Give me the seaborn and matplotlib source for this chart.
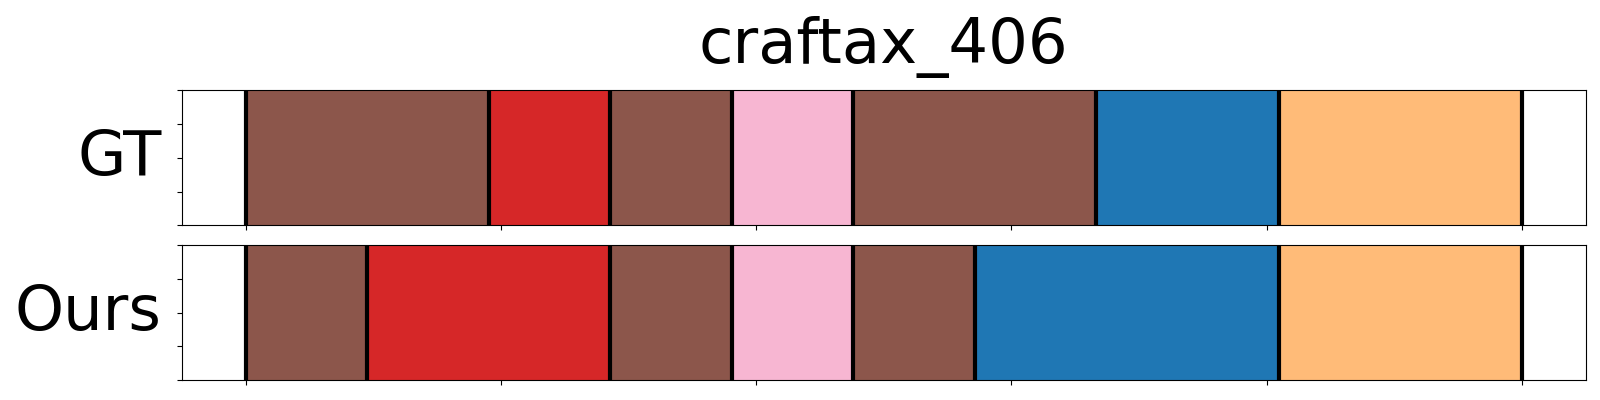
import numpy as np
import pandas as pd
import matplotlib
matplotlib.use("Agg")
import matplotlib.pyplot as plt
import seaborn as sns

# Per-frame action labels (tab20 class ids) for episode craftax_406
title = "craftax_406"
row_names = ["GT", "Ours"]
gt_labels = [10, 10, 10, 10, 6, 6, 10, 10, 13, 13, 10, 10, 10, 10, 0, 0, 0, 3, 3, 3, 3]
ours_labels = [10, 10, 6, 6, 6, 6, 10, 10, 13, 13, 10, 10, 0, 0, 0, 0, 0, 3, 3, 3, 3]

cmap = plt.get_cmap("tab20")
palette = {c: cmap(c) for c in set(gt_labels) | set(ours_labels)}

plt.rcParams["font.family"] = ["DejaVu Sans"]

fig, axes = plt.subplots(2, 1, figsize=(16, 4), dpi=100)
fig.subplots_adjust(left=0.1136, right=0.991, top=0.774, bottom=0.05, hspace=0.148)

for ax, name, labels in zip(axes, row_names, [gt_labels, ours_labels]):
    n = len(labels)
    df = pd.DataFrame({
        "t": (np.arange(n) + 0.5) / n,
        "w": np.ones(n),
        "label": labels,
    })
    sns.histplot(
        data=df, x="t", weights="w", hue="label", palette=palette,
        bins=n, binrange=(0, 1), element="step", fill=True,
        alpha=1, linewidth=0, legend=False, ax=ax,
    )
    # segment boundaries
    lab = np.asarray(labels)
    cuts = np.concatenate([[0], np.where(lab[1:] != lab[:-1])[0] + 1, [n]]) / n
    for c in cuts:
        ax.axvline(c, color="black", linewidth=3)
    ax.set_ylim(0, 1)
    ax.set_xlim(-0.05, 1.05)
    ax.tick_params(labelbottom=False, labelleft=False)
    ax.set_xlabel("")
    ax.set_ylabel(name, fontsize=45, rotation=0, ha="right", va="center", labelpad=11)

axes[0].set_title(title, fontsize=45, pad=20)

fig.savefig("out.png")
